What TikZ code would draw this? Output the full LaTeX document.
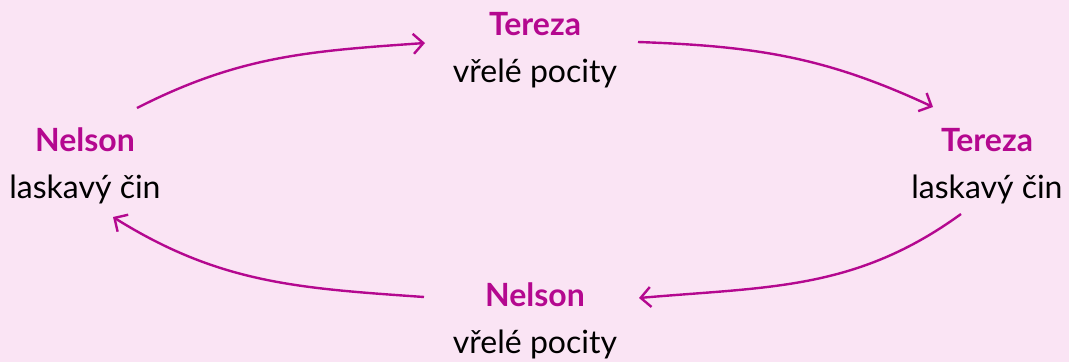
\documentclass[tikz,border=0pt]{standalone}
\usepackage{fontspec}
\usepackage{xcolor}
\usepackage{tikz}
\usetikzlibrary{arrows.meta}
\setmainfont{Lato}
\definecolor{mag}{HTML}{B4088F}
\definecolor{bgpink}{HTML}{FAE4F4}

\begin{document}
\begin{tikzpicture}[x=1pt,y=-1pt,
  station/.style={align=center,inner sep=0pt,font=\fontsize{32}{46.5}\selectfont},
  arr/.style={draw=mag,line width=2.4pt,-{Straight Barb[length=10pt,width=20pt,line width=2.4pt]}}]
\fill [bgpink] (0,0) rectangle (1069,362);
\useasboundingbox (0,0) rectangle (1069,362);
\node [station] (t) at (535,50) {{\color{mag}\bfseries Tereza}\\vřelé pocity};
\node [station] (tr) at (987,166) {{\color{mag}\bfseries Tereza}\\laskavý čin};
\node [station] (nb) at (535,321) {{\color{mag}\bfseries Nelson}\\vřelé pocity};
\node [station] (nl) at (85,166) {{\color{mag}\bfseries Nelson}\\laskavý čin};
\draw [arr] ([xshift=52pt,yshift=58pt]nl.center) to [out=27,in=184] ([xshift=-110pt,yshift=7pt]t.center);
\draw [arr] ([xshift=103pt,yshift=8pt]t.center) to [out=-2,in=155] ([xshift=-54pt,yshift=59pt]tr.center);
\draw [arr] ([xshift=-26pt,yshift=-48pt]tr.center) to [out=216,in=5] ([xshift=104pt,yshift=23pt]nb.center);
\draw [arr] ([xshift=-111pt,yshift=24pt]nb.center) to [out=176,in=-32] ([xshift=28pt,yshift=-51pt]nl.center);
\end{tikzpicture}
\end{document}
